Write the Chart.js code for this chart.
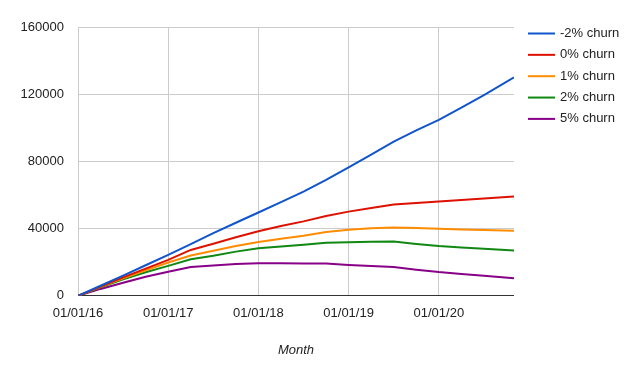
<!DOCTYPE html>
<html>
<head>
<meta charset="utf-8">
<script src="https://cdn.jsdelivr.net/npm/chart.js@4"></script>
<style>
  html, body { margin: 0; padding: 0; background: #fff; }
  #wrap { width: 640px; height: 373px; }
</style>
</head>
<body>
<div id="wrap"><canvas id="churnChart" width="640" height="373"></canvas></div>
<script>
// months since 01/01/16
const months = [0, 3, 6, 9, 12, 15, 18, 21, 24, 27, 30, 33, 36, 39, 42, 45, 48, 51, 54, 58];

const seriesLabels = ['-2% churn', '0% churn', '1% churn', '2% churn', '5% churn'];
const seriesColors = ['#1155cc', '#dd1100', '#ff8c00', '#118811', '#880088'];

const churnMinus2 = [0, 6000, 12000, 18200, 24400, 30800, 37300, 43500, 49600, 55800, 62000, 69000, 76500, 84000, 91800, 98500, 104700, 112000, 119500, 130000];
const churn0 = [0, 5500, 11000, 16200, 21400, 27300, 31000, 34800, 38400, 41500, 44300, 47500, 50100, 52300, 54300, 55300, 56100, 57000, 57900, 59100];
const churn1 = [0, 5300, 10400, 15200, 19800, 24000, 26800, 29600, 32000, 34000, 35800, 38000, 39300, 40200, 40700, 40300, 39900, 39500, 39100, 38700];
const churn2 = [0, 5000, 9800, 14000, 17800, 21800, 23800, 26300, 28300, 29400, 30400, 31600, 31900, 32100, 32300, 30900, 29700, 28800, 28000, 27000];
const churn5 = [0, 4100, 7800, 11300, 14300, 17200, 18000, 19000, 19400, 19400, 19300, 19200, 18400, 17700, 17100, 15500, 14100, 13000, 12000, 10500];

const xTickMonths = [0, 12, 24, 36, 48];
const xTickLabels = ['01/01/16', '01/01/17', '01/01/18', '01/01/19', '01/01/20'];
const yTicks = [0, 40000, 80000, 120000, 160000];

const allSeries = [churnMinus2, churn0, churn1, churn2, churn5];

const FONT = '"Liberation Sans", Arial, sans-serif';

// legend drawn on the right, google-charts style
const sideLegend = {
    id: 'sideLegend',
    afterDraw(chart) {
        const ctx = chart.ctx;
        const x0 = chart.chartArea.right + 14;
        ctx.save();
        ctx.font = '13px ' + FONT;
        ctx.textBaseline = 'middle';
        chart.data.datasets.forEach((ds, i) => {
            const y = 33.5 + i * 21.35;
            ctx.strokeStyle = ds.borderColor;
            ctx.lineWidth = 2;
            ctx.beginPath();
            ctx.moveTo(x0, y);
            ctx.lineTo(x0 + 27, y);
            ctx.stroke();
            ctx.fillStyle = '#222';
            ctx.fillText(ds.label, x0 + 32, y);
        });
        ctx.restore();
    }
};

new Chart(document.getElementById('churnChart'), {
    type: 'line',
    data: {
        datasets: allSeries.map((vals, i) => ({
            label: seriesLabels[i],
            data: months.map((m, j) => ({ x: m, y: vals[j] })),
            borderColor: seriesColors[i],
            backgroundColor: seriesColors[i],
            borderWidth: 2,
            pointRadius: 0,
            tension: 0,
            fill: false
        }))
    },
    options: {
        responsive: false,
        animation: false,
        layout: { padding: { top: 27, right: 126, bottom: 15, left: 0 } },
        plugins: {
            legend: { display: false },
            tooltip: { enabled: false }
        },
        scales: {
            x: {
                type: 'linear',
                min: 0,
                max: 58,
                afterBuildTicks: (scale) => {
                    scale.ticks = xTickMonths.map(v => ({ value: v }));
                },
                grid: { color: '#cccccc', drawTicks: false },
                border: { display: false },
                ticks: {
                    padding: 10,
                    color: '#222',
                    font: { family: FONT, size: 13 },
                    maxRotation: 0,
                    autoSkip: false,
                    callback: (v) => xTickLabels[xTickMonths.indexOf(v)]
                },
                title: {
                    display: true,
                    text: 'Month',
                    color: '#222',
                    font: { family: FONT, size: 13, style: 'italic' },
                    padding: { top: 11, bottom: 0 }
                }
            },
            y: {
                min: 0,
                max: 160000,
                afterBuildTicks: (scale) => {
                    scale.ticks = yTicks.map(v => ({ value: v }));
                },
                afterFit: (scale) => { scale.width = 78; },
                grid: {
                    drawTicks: false,
                    color: (c) => (c.tick && c.tick.value === 0 ? '#333333' : '#cccccc')
                },
                border: { display: false },
                ticks: {
                    padding: 14,
                    color: '#222',
                    font: { family: FONT, size: 13 },
                    callback: (v) => String(v)
                }
            }
        }
    },
    plugins: [sideLegend]
});
</script>
</body>
</html>
